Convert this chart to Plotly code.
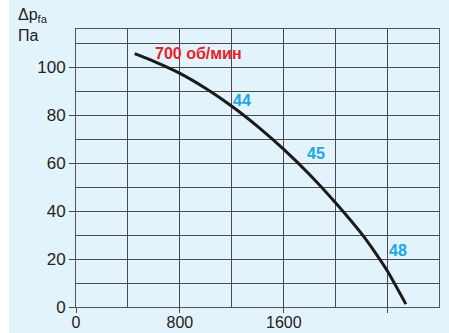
import plotly.graph_objects as go

# Curve: flow (m3/h) vs pressure (Pa)
flow = [452, 600, 800, 1000, 1200, 1400, 1600, 1800, 2000, 2200, 2300, 2400, 2540]
pressure = [105.7, 102.5, 97.5, 91.2, 83.8, 75.3, 65.8, 55.2, 43.4, 30.5, 23.0, 14.8, 1.2]

x_tickvals = [0, 800, 1600, 2400]
x_ticktext = ["0", "800", "1600", ""]
y_tickvals = [0, 20, 40, 60, 80, 100]
y_ticktext = ["0", "20", "40", "60", "80", "100"]

speed_label = "700 об/мин"
speed_pos = (590, 105.7)
level_labels = ["44", "45", "48"]
level_x = [1275, 1845, 2483]
level_y = [86, 64, 23.7]

BG = "#e2f3fc"
GRID = "#4a4a4a"
FONT = "Liberation Sans, Arial, sans-serif"

fig = go.Figure()
fig.add_trace(go.Scatter(
    x=flow, y=pressure, mode="lines",
    line=dict(color="#1a1a1a", width=3, shape="spline", smoothing=0.6),
    hoverinfo="skip", showlegend=False,
))

fig.add_annotation(x=speed_pos[0], y=speed_pos[1], text="<b>" + speed_label + "</b>",
                   showarrow=False, xanchor="left", yanchor="middle",
                   font=dict(color="#e8202a", size=16, family=FONT))
for t, xx, yy in zip(level_labels, level_x, level_y):
    fig.add_annotation(x=xx, y=yy, text="<b>" + t + "</b>", showarrow=False,
                       xanchor="center", yanchor="middle",
                       font=dict(color="#1ba6e6", size=16, family=FONT))

# axis title
fig.add_annotation(xref="paper", yref="paper", x=-0.165, y=1.09,
                   text="Δp<sub>fa</sub><br>Па", showarrow=False, align="left",
                   xanchor="left", yanchor="top",
                   font=dict(color="#222", size=16, family=FONT))

# white strip at the left edge of the picture
fig.add_shape(type="rect", xref="paper", yref="paper",
              x0=-0.3, x1=-0.1846, y0=-0.2, y1=1.2,
              fillcolor="white", line=dict(width=0), layer="above")

fig.update_layout(
    width=449, height=333,
    margin=dict(l=76, r=10, t=29, b=26),
    paper_bgcolor=BG, plot_bgcolor=BG,
    font=dict(family=FONT, size=17, color="#222"),
    xaxis=dict(range=[0, 2795], tickvals=x_tickvals, ticktext=x_ticktext,
               showgrid=True, gridcolor=GRID, gridwidth=1,
               minor=dict(dtick=400, tick0=0, showgrid=True, gridcolor=GRID, gridwidth=1),
               ticks="outside", ticklen=5, tickcolor=GRID, automargin=False,
               ticklabelstandoff=-4, tickfont=dict(size=16),
               showline=True, linecolor="#555", linewidth=1, mirror=True,
               zeroline=False, fixedrange=True),
    yaxis=dict(range=[0, 116], tickvals=y_tickvals, ticktext=y_ticktext,
               showgrid=True, gridcolor=GRID, gridwidth=1,
               minor=dict(dtick=10, tick0=0, showgrid=True, gridcolor=GRID, gridwidth=1),
               ticks="outside", ticklen=6, tickcolor=GRID, automargin=False,
               showline=True, linecolor="#555", linewidth=1, mirror=True,
               zeroline=False, fixedrange=True),
)

fig.write_html("out.html", post_script="document.body.style.margin='0';",
               config={"displayModeBar": False})
